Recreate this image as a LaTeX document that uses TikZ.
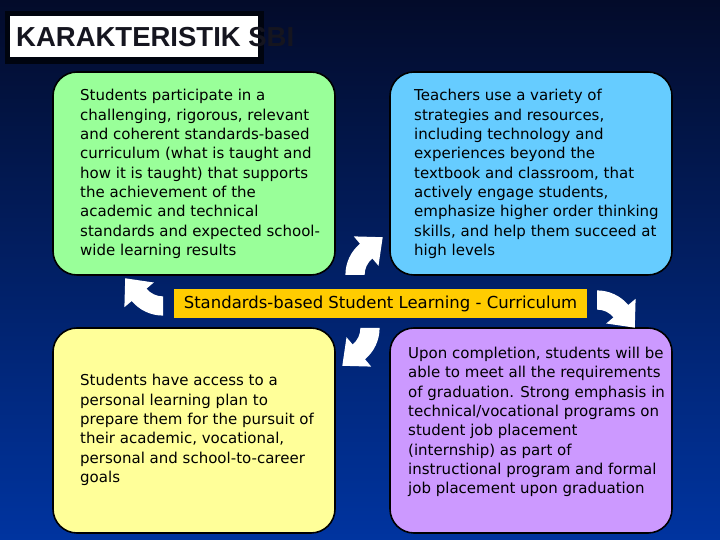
\documentclass[tikz,border=0pt]{standalone}
\usepackage{fontspec}
\setmainfont{DejaVu Sans}
\newfontfamily\headfont{Liberation Sans}

\definecolor{bgtop}{HTML}{030B2A}
\definecolor{bgmid}{HTML}{082A85}
\definecolor{bgbot}{HTML}{0034A0}
\definecolor{titleshadow}{HTML}{00040F}
\definecolor{cardgreen}{HTML}{99FF99}
\definecolor{cardblue}{HTML}{66CCFF}
\definecolor{cardyellow}{HTML}{FFFF99}
\definecolor{cardpurple}{HTML}{CC99FF}
\definecolor{bandgold}{HTML}{FFCC00}
\definecolor{headink}{HTML}{15151F}

\tikzset{
  card/.style={draw=black,line width=1.6pt,rounded corners=24pt,
    minimum width=282pt,minimum height=203pt,inner sep=0pt},
  cardtext/.style={anchor=west,align=left,inner sep=0pt,
    font=\fontsize{15}{19.3}\selectfont},
  bendarrow/.pic={
    \fill[white,shift={(26pt,0pt)}] (180:34pt)
      arc[start angle=180,end angle=130,radius=34pt]
      -- (130:42pt) -- ([shift={(40:18pt)}]130:26pt) -- (130:10pt)
      -- (130:18pt) arc[start angle=130,end angle=180,radius=18pt] -- cycle;
  }
}

\begin{document}
\begin{tikzpicture}[x=1pt,y=1pt]

        \useasboundingbox (0,0) rectangle (720,540);
        \shade[top color=bgtop,middle color=bgmid,bottom color=bgbot]
          (0,0) rectangle (720,540);

        \fill[titleshadow] (5,476) rectangle (264,529);
        \node[fill=white,minimum width=248pt,minimum height=41pt,inner sep=0pt]
          (titlebox) at (134,503.5) {};
        \node[anchor=base west,inner sep=0pt,text=headink,
          font=\headfont\bfseries\fontsize{27.5}{30}\selectfont]
          (title) at (16,493) {KARAKTERISTIK SBI};

        \begin{scope}[every node/.style={card}]
          \node[fill=cardgreen]  (curriculum) at (194,366.5) {};
          \node[fill=cardblue]   (strategies) at (531,366.5) {};
          \node[fill=cardyellow,minimum height=205pt] (plan)      at (194,109.5) {};
          \node[fill=cardpurple,minimum height=205pt] (placement) at (531,109.5) {};
        \end{scope}

        \begin{scope}[every node/.style={cardtext}]
          \node (curriculumtext) at (80,366) {Students participate in a\\
            challenging, rigorous, relevant\\and coherent standards-based\\
            curriculum (what is taught and\\how it is taught) that supports\\
            the achievement of the\\academic and technical\\
            standards and expected school-\\wide learning results};
          \node (strategiestext) at (414,366) {Teachers use a variety of\\
            strategies and resources,\\including technology and\\
            experiences beyond the\\textbook and classroom, that\\
            actively engage students,\\emphasize higher order thinking\\
            skills, and help them succeed at\\high levels};
          \node (plantext) at (80,110) {Students have access to a\\
            personal learning plan to\\prepare them for the pursuit of\\
            their academic, vocational,\\personal and school-to-career\\goals};
          \node (placementtext) at (408,118) {Upon completion, students will be\\
            able to meet all the requirements\\of graduation. Strong emphasis in\\
            technical/vocational programs on\\student job placement\\
            (internship) as part of\\instructional program and formal\\
            job placement upon graduation};
        \end{scope}

        \node[fill=bandgold,minimum width=413pt,minimum height=29pt,inner sep=0pt,
          font=\fontsize{16.5}{18}\selectfont] (focus) at (380.5,236.5)
          {Standards-based Student Learning - Curriculum};

        \begin{scope}[every pic/.style={scale=1.2}]
          \pic at (355,265) {bendarrow};
          \pic[rotate=-90] at (597,240) {bendarrow};
          \pic[rotate=180] at (370,212) {bendarrow};
          \pic[rotate=90] at (163,234) {bendarrow};
        \end{scope}

      \end{tikzpicture}
\end{document}
